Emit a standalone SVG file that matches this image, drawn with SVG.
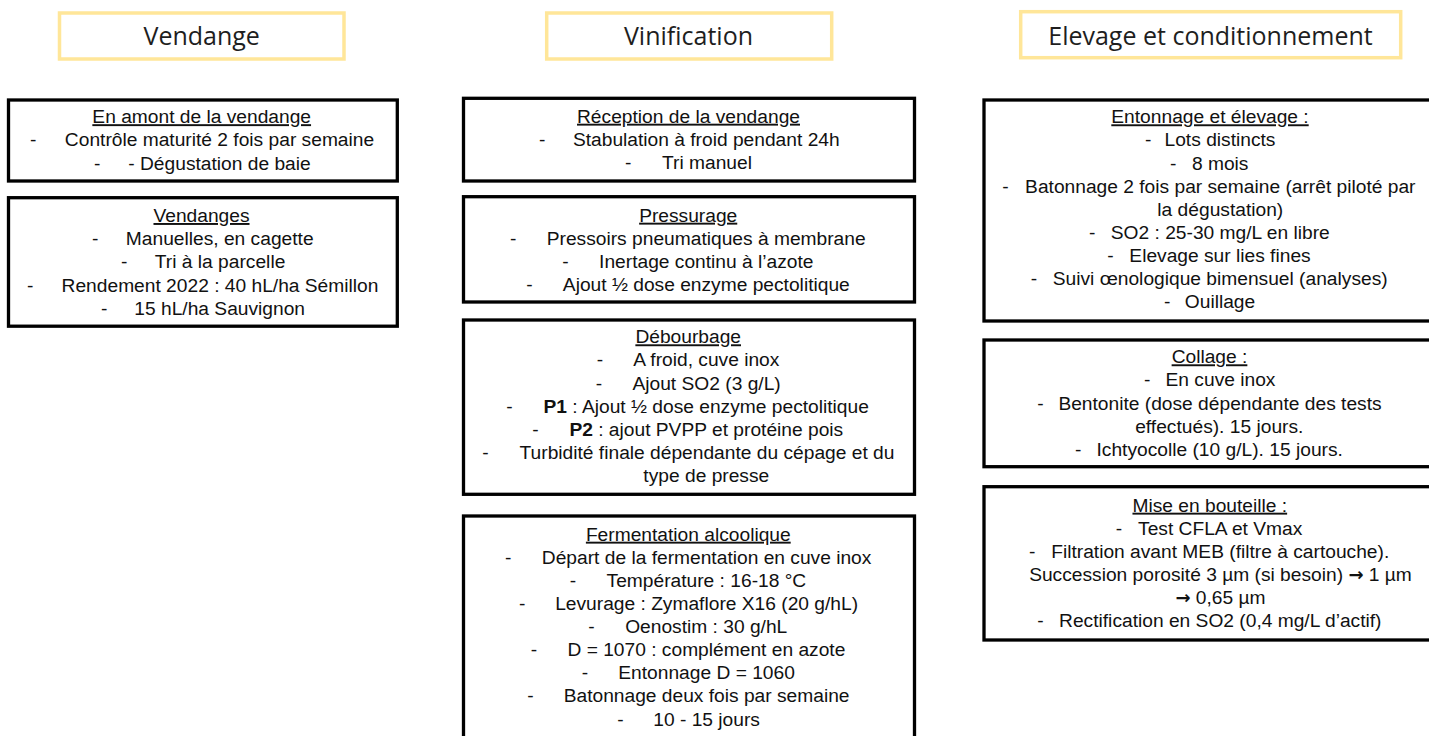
<svg xmlns="http://www.w3.org/2000/svg" width="1429" height="736" viewBox="0 0 1429 736">
<style>
.hdr{fill:#fff;stroke:#FFE699;stroke-width:3.5}
.box{fill:#fff;stroke:#000;stroke-width:3.3}
.h{font-family:"Open Sans","Liberation Sans",sans-serif;font-size:25px;fill:#1e1e1e;text-anchor:middle}
text.t,text.b,text.d{font-family:"Liberation Sans",Arial,sans-serif;font-size:19.2px;fill:#111}
.t{text-anchor:middle;text-decoration:underline}
.b{text-anchor:middle}
.d{text-anchor:start}
.bold{font-weight:bold}
.arr{font-family:"DejaVu Sans",sans-serif;font-weight:bold;font-size:18px}
</style>
<rect width="1429" height="736" fill="#fff"/>
<g id="connectors"/>

<g id="hdr-vendange">
<rect class="hdr" x="59.5" y="13" width="284.5" height="46"/>
<text class="h" x="201.7" y="45">Vendange</text>
</g>
<g id="hdr-vinification">
<rect class="hdr" x="546.7" y="13" width="285" height="46"/>
<text class="h" x="688.5" y="45">Vinification</text>
</g>
<g id="hdr-elevage">
<rect class="hdr" x="1020.7" y="11.7" width="380" height="46"/>
<text class="h" x="1210.5" y="45">Elevage et conditionnement</text>
</g>

<g id="amont">
<rect class="box" x="8.5" y="100" width="388.8" height="81"/>
<text class="t" x="201.7" y="123.2">En amont de la vendange</text>
<text class="d" x="30" y="146.4">-</text><text class="b" x="219.5" y="146.4">Contrôle maturité 2 fois par semaine</text>
<text class="d" x="94" y="169.6">-</text><text class="b" x="219.5" y="169.6">- Dégustation de baie</text>
</g>

<g id="vendanges">
<rect class="box" x="8.5" y="197.7" width="388.8" height="128.5"/>
<text class="t" x="201.5" y="222">Vendanges</text>
<text class="d" x="92" y="245.2">-</text><text class="b" x="219.7" y="245.2">Manuelles, en cagette</text>
<text class="d" x="121" y="268.4">-</text><text class="b" x="220.1" y="268.4">Tri à la parcelle</text>
<text class="d" x="27" y="291.6">-</text><text class="b" x="220" y="291.6">Rendement 2022 : 40 hL/ha Sémillon</text>
<text class="d" x="101" y="314.8">-</text><text class="b" x="219.7" y="314.8">15 hL/ha Sauvignon</text>
</g>

<g id="reception">
<rect class="box" x="463.5" y="98.3" width="451" height="82.7"/>
<text class="t" x="688.5" y="122.7">Réception de la vendange</text>
<text class="d" x="539" y="145.8">-</text><text class="b" x="706.3" y="145.8">Stabulation à froid pendant 24h</text>
<text class="d" x="625" y="168.9">-</text><text class="b" x="707" y="168.9">Tri manuel</text>
</g>

<g id="pressurage">
<rect class="box" x="463.5" y="196.7" width="451" height="105.3"/>
<text class="t" x="688.2" y="221.7">Pressurage</text>
<text class="d" x="510" y="244.8">-</text><text class="b" x="706.2" y="244.8">Pressoirs pneumatiques à membrane</text>
<text class="d" x="562.3" y="267.9">-</text><text class="b" x="706.3" y="267.9">Inertage continu à l’azote</text>
<text class="d" x="526.3" y="291">-</text><text class="b" x="706.3" y="291">Ajout ½ dose enzyme pectolitique</text>
</g>

<g id="debourbage">
<rect class="box" x="463.5" y="320" width="451" height="174.3"/>
<text class="t" x="688.2" y="343.3">Débourbage</text>
<text class="d" x="596.7" y="366.4">-</text><text class="b" x="706.3" y="366.4">A froid, cuve inox</text>
<text class="d" x="595.7" y="389.5">-</text><text class="b" x="706.6" y="389.5">Ajout SO2 (3 g/L)</text>
<text class="d" x="506.3" y="412.6">-</text><text class="b" x="706.2" y="412.6"><tspan class="bold">P1</tspan> : Ajout ½ dose enzyme pectolitique</text>
<text class="d" x="532.3" y="435.7">-</text><text class="b" x="706.3" y="435.7"><tspan class="bold">P2</tspan> : ajout PVPP et protéine pois</text>
<text class="d" x="482.3" y="458.8">-</text><text class="b" x="707" y="458.8">Turbidité finale dépendante du cépage et du</text>
<text class="b" x="706.3" y="481.9">type de presse</text>
</g>

<g id="fermentation">
<rect class="box" x="463.5" y="516" width="451" height="240"/>
<text class="t" x="688.3" y="540.7">Fermentation alcoolique</text>
<text class="d" x="505" y="563.8">-</text><text class="b" x="706.6" y="563.8">Départ de la fermentation en cuve inox</text>
<text class="d" x="569.7" y="586.9">-</text><text class="b" x="706.4" y="586.9">Température : 16-18 °C</text>
<text class="d" x="519" y="610">-</text><text class="b" x="706.6" y="610">Levurage : Zymaflore X16 (20 g/hL)</text>
<text class="d" x="588.3" y="633.1">-</text><text class="b" x="706.2" y="633.1">Oenostim : 30 g/hL</text>
<text class="d" x="530.7" y="656.2">-</text><text class="b" x="706.4" y="656.2">D = 1070 : complément en azote</text>
<text class="d" x="581.7" y="679.3">-</text><text class="b" x="706.6" y="679.3">Entonnage D = 1060</text>
<text class="d" x="527.3" y="702.4">-</text><text class="b" x="706.6" y="702.4">Batonnage deux fois par semaine</text>
<text class="d" x="617.3" y="725.5">-</text><text class="b" x="706.6" y="725.5">10 - 15 jours</text>
</g>

<g id="entonnage">
<rect class="box" x="984" y="100" width="452" height="221"/>
<text class="t" x="1210" y="123.3">Entonnage et élevage :</text>
<text class="d" x="1145" y="146.4">-</text><text class="b" x="1220" y="146.4">Lots distincts</text>
<text class="d" x="1170" y="169.5">-</text><text class="b" x="1220.2" y="169.5">8 mois</text>
<text class="d" x="1002.3" y="192.6">-</text><text class="b" x="1220.3" y="192.6">Batonnage 2 fois par semaine (arrêt piloté par</text>
<text class="b" x="1220.3" y="215.7">la dégustation)</text>
<text class="d" x="1089" y="238.8">-</text><text class="b" x="1220.3" y="238.8">SO2 : 25-30 mg/L en libre</text>
<text class="d" x="1107.3" y="261.9">-</text><text class="b" x="1220" y="261.9">Elevage sur lies fines</text>
<text class="d" x="1030.7" y="285">-</text><text class="b" x="1220.2" y="285">Suivi œnologique bimensuel (analyses)</text>
<text class="d" x="1164" y="308.1">-</text><text class="b" x="1220" y="308.1">Ouillage</text>
</g>

<g id="collage">
<rect class="box" x="984" y="340" width="452" height="126.7"/>
<text class="t" x="1209.5" y="363.3">Collage :</text>
<text class="d" x="1144" y="386.4">-</text><text class="b" x="1220.5" y="386.4">En cuve inox</text>
<text class="d" x="1037.3" y="409.5">-</text><text class="b" x="1220" y="409.5">Bentonite (dose dépendante des tests</text>
<text class="b" x="1219.3" y="432.6">effectués). 15 jours.</text>
<text class="d" x="1075" y="455.7">-</text><text class="b" x="1219.7" y="455.7">Ichtyocolle (10 g/L). 15 jours.</text>
</g>

<g id="bouteille">
<rect class="box" x="984" y="486.7" width="452" height="153.3"/>
<text class="t" x="1209.8" y="511.7">Mise en bouteille :</text>
<text class="d" x="1115.7" y="534.8">-</text><text class="b" x="1220.2" y="534.8">Test CFLA et Vmax</text>
<text class="d" x="1029" y="557.9">-</text><text class="b" x="1220.2" y="557.9">Filtration avant MEB (filtre à cartouche).</text>
<text class="b" x="1220.5" y="581">Succession porosité 3 µm (si besoin) <tspan class="arr">→</tspan> 1 µm</text>
<text class="b" x="1220.5" y="604.1"><tspan class="arr">→</tspan> 0,65 µm</text>
<text class="d" x="1037.3" y="627.2">-</text><text class="b" x="1220.3" y="627.2">Rectification en SO2 (0,4 mg/L d’actif)</text>
</g>
</svg>
